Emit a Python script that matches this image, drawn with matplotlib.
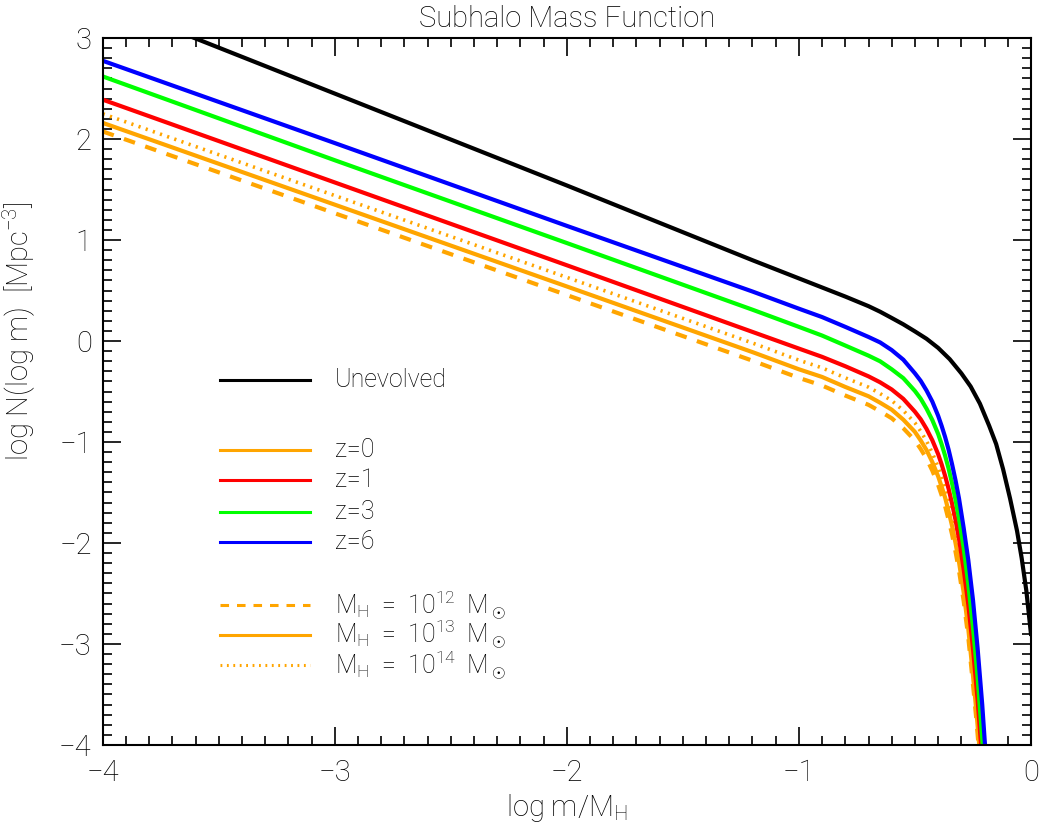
import matplotlib
matplotlib.use("Agg")
from matplotlib import pyplot as plt
from matplotlib.ticker import MultipleLocator

plt.rcParams['font.family'] = ['Roboto', 'DejaVu Sans']
plt.rcParams['font.weight'] = 'light'
plt.rcParams['axes.titleweight'] = 'light'
plt.rcParams['axes.labelweight'] = 'light'
plt.rcParams['mathtext.fontset'] = 'custom'
plt.rcParams['mathtext.rm'] = 'Roboto:light'
plt.rcParams['mathtext.it'] = 'Roboto:light'

# values (log m/M_H, log N)
unevolved_x = [-4.0, -3.0, -2.0, -1.2, -1.0, -0.9, -0.8, -0.7, -0.65, -0.6,
               -0.55, -0.5, -0.45, -0.4, -0.35, -0.3, -0.26, -0.22, -0.18,
               -0.15, -0.12, -0.09, -0.06, -0.04, -0.02, 0.0]
unevolved_y = [3.36, 2.45, 1.54, 0.80, 0.62, 0.53, 0.44, 0.345, 0.29, 0.228,
               0.165, 0.095, 0.022, -0.068, -0.18, -0.32, -0.45, -0.62, -0.84,
               -1.02, -1.27, -1.56, -1.88, -2.15, -2.47, -2.9]

z6_x = [-4.0, -3.0, -2.0, -1.2, -1.0, -0.9, -0.8, -0.7, -0.65, -0.6, -0.55,
        -0.5, -0.475, -0.45, -0.425, -0.4, -0.385, -0.37, -0.355, -0.34,
        -0.325, -0.31, -0.29, -0.27, -0.25, -0.23, -0.21, -0.198, -0.19]
z6_y = [2.775, 1.96, 1.14, 0.49, 0.32, 0.237, 0.14, 0.04, -0.014, -0.09,
        -0.185, -0.32, -0.395, -0.49, -0.60, -0.74, -0.84, -0.95, -1.075,
        -1.22, -1.38, -1.56, -1.85, -2.17, -2.56, -3.04, -3.60, -4.0, -4.3]

z3_x = [-4.0, -3.0, -2.0, -1.2, -1.0, -0.9, -0.8, -0.7, -0.65, -0.6, -0.55,
        -0.5, -0.475, -0.45, -0.425, -0.4, -0.385, -0.37, -0.355, -0.34,
        -0.325, -0.31, -0.29, -0.27, -0.25, -0.23, -0.208, -0.2]
z3_y = [2.62, 1.79, 0.97, 0.31, 0.14, 0.054, -0.045, -0.145, -0.201, -0.28,
        -0.368, -0.495, -0.572, -0.67, -0.783, -0.92, -1.022, -1.135, -1.262,
        -1.41, -1.572, -1.76, -2.05, -2.41, -2.83, -3.33, -4.0, -4.29]

z1_x = [-4.0, -3.0, -2.0, -1.2, -1.0, -0.9, -0.8, -0.7, -0.65, -0.6, -0.55,
        -0.5, -0.475, -0.45, -0.425, -0.4, -0.385, -0.37, -0.355, -0.34,
        -0.325, -0.31, -0.29, -0.27, -0.25, -0.23, -0.215, -0.21]
z1_y = [2.39, 1.57, 0.75, 0.09, -0.075, -0.157, -0.25, -0.35, -0.409, -0.48,
        -0.573, -0.70, -0.775, -0.87, -0.983, -1.12, -1.221, -1.335, -1.462,
        -1.61, -1.773, -1.96, -2.26, -2.61, -3.04, -3.55, -4.0, -4.17]

z0_x = [-4.0, -3.0, -2.0, -1.2, -1.0, -0.9, -0.8, -0.7, -0.65, -0.6, -0.55,
        -0.5, -0.475, -0.45, -0.425, -0.4, -0.385, -0.37, -0.355, -0.34,
        -0.325, -0.31, -0.29, -0.27, -0.25, -0.235, -0.223, -0.215]
z0_m13 = [2.16, 1.35, 0.54, -0.11, -0.28, -0.356, -0.455, -0.547, -0.611,
          -0.68, -0.779, -0.90, -0.985, -1.08, -1.199, -1.34, -1.442, -1.55,
          -1.686, -1.83, -2.002, -2.19, -2.49, -2.85, -3.31, -3.67, -4.0,
          -4.25]
z0_m14 = [2.25, 1.44, 0.63, -0.02, -0.19, -0.266, -0.365, -0.457, -0.521,
          -0.59, -0.689, -0.81, -0.895, -0.99, -1.109, -1.25, -1.352, -1.46,
          -1.596, -1.74, -1.912, -2.10, -2.40, -2.76, -3.22, -3.58, -3.91,
          -4.16]
z0_m12 = [2.075, 1.265, 0.455, -0.195, -0.365, -0.441, -0.54, -0.632, -0.696,
          -0.765, -0.864, -0.985, -1.07, -1.165, -1.284, -1.425, -1.527,
          -1.635, -1.771, -1.915, -2.087, -2.275, -2.575, -2.935, -3.395,
          -3.755, -4.085, -4.335]

orange = '#ffa500'
dash = (0, (2.8, 2.6))
dots = (0, (0.6, 1.5))

fig = plt.figure(figsize=(10.42, 8.27), dpi=100)
ax = fig.add_axes([0.0986, 0.0992, 0.8908, 0.8548])

lw = 3.0
ax.plot(unevolved_x, unevolved_y, color='black', lw=lw)
ax.plot(z0_x, z0_m12, color=orange, lw=lw, linestyle=dash)
ax.plot(z0_x, z0_m14, color=orange, lw=2.6, linestyle=dots)
ax.plot(z0_x, z0_m13, color=orange, lw=lw)
ax.plot(z1_x, z1_y, color='#ff0000', lw=lw)
ax.plot(z3_x, z3_y, color='#00ff00', lw=lw)
ax.plot(z6_x, z6_y, color='#0000ff', lw=lw)

ax.set_xlim(-4, 0)
ax.set_ylim(-4, 3)
ax.xaxis.set_major_locator(MultipleLocator(1))
ax.xaxis.set_minor_locator(MultipleLocator(0.1))
ax.yaxis.set_major_locator(MultipleLocator(1))
ax.yaxis.set_minor_locator(MultipleLocator(0.1))
ax.tick_params(which='both', direction='in', top=True, right=True,
               width=1.2, labelsize=21)
ax.tick_params(which='major', length=13)
ax.tick_params(which='minor', length=6.5)
ax.tick_params(axis='x', pad=10)
ax.tick_params(axis='y', pad=8)
for s in ax.spines.values():
    s.set_linewidth(1.5)

ax.set_title('Subhalo Mass Function', fontsize=21, pad=8)
ax.set_xlabel(r'log m/M$_{\rm H}$', fontsize=21, labelpad=4)
ax.set_ylabel(r'log N(log m)  [Mpc$^{-3}$]', fontsize=21)
ax.yaxis.set_label_coords(-0.07, 0.585)

# hand placed legend, like the IDL original
legend_rows = [
    ('Unevolved', 'black', '-', 0.516),
    ('z=0', orange, '-', 0.417),
    ('z=1', '#ff0000', '-', 0.375),
    ('z=3', '#00ff00', '-', 0.330),
    ('z=6', '#0000ff', '-', 0.287),
    (r'M$_{\rm H}$  =  10$^{12}$  M$_\odot$', orange, dash, 0.198),
    (r'M$_{\rm H}$  =  10$^{13}$  M$_\odot$', orange, '-', 0.156),
    (r'M$_{\rm H}$  =  10$^{14}$  M$_\odot$', orange, dots, 0.113),
]
for label, col, ls, yy in legend_rows:
    ax.plot([0.126, 0.2234], [yy, yy], transform=ax.transAxes, color=col,
            lw=2.2, linestyle=ls, clip_on=False)
    ax.text(0.250, yy, label, transform=ax.transAxes, fontsize=18,
            va='center', ha='left')

fig.savefig('out.png', dpi=100)
